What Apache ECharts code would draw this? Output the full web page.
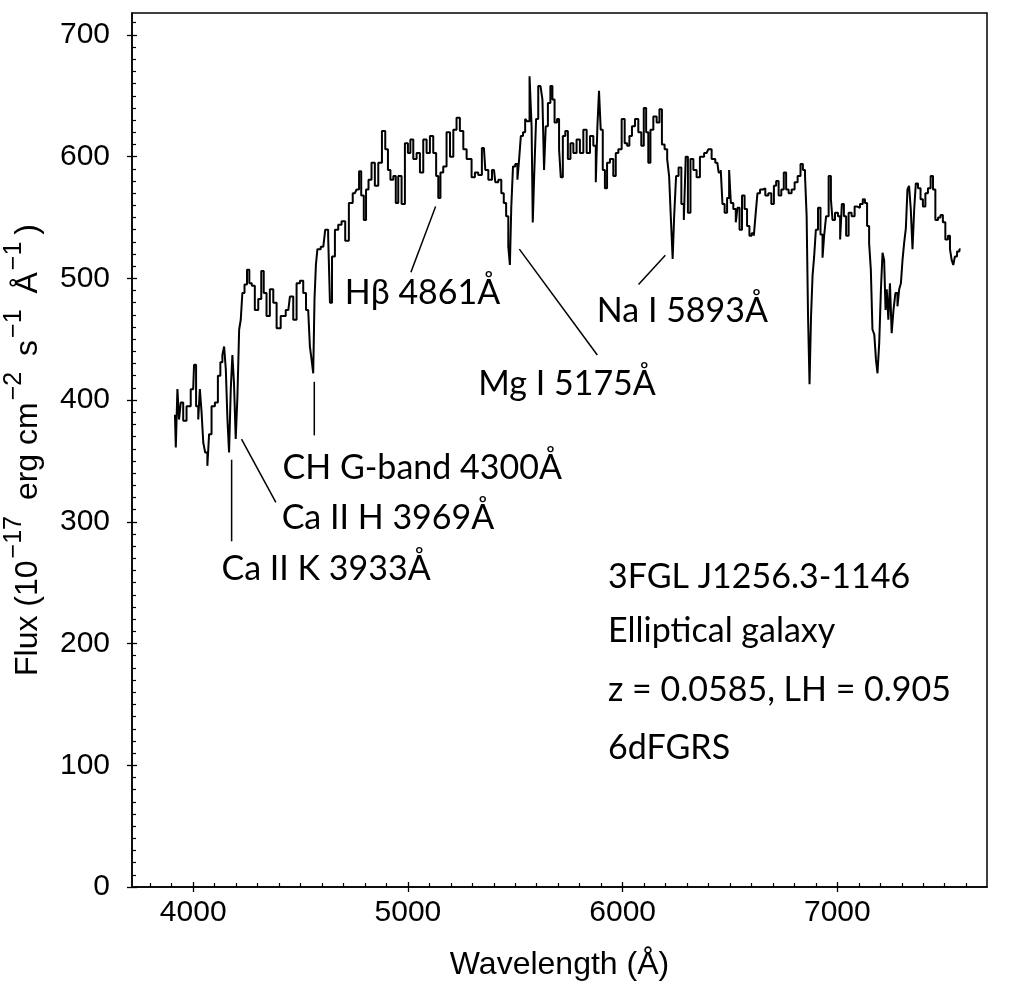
<!DOCTYPE html>
<html>
<head>
<meta charset="utf-8">
<script src="https://cdn.jsdelivr.net/npm/echarts@6/dist/echarts.min.js"></script>
<style>
html, body { margin: 0; padding: 0; background: #fff; }
#chart { width: 1023px; height: 990px; }
</style>
</head>
<body>
<div id="chart"></div>
<script>
// spectrum (wavelength in Å, flux in 1e-17 erg/cm2/s/Å)
const wavelength = [
    3915, 3923, 3930, 3938, 3946, 3961, 3977, 4000, 4008, 4019,
    4028, 4034, 4044, 4050, 4062, 4070, 4078, 4093, 4109, 4121,
    4132, 4140, 4148, 4156, 4163, 4171, 4179, 4186, 4194, 4202,
    4210, 4218, 4225, 4233, 4245, 4256, 4267, 4279, 4295, 4311,
    4323, 4334, 4349, 4365, 4381, 4396, 4419, 4443, 4458, 4474,
    4489, 4505, 4520, 4531, 4540, 4547, 4556, 4562, 4568, 4575,
    4582, 4606, 4624, 4633, 4641, 4652, 4668, 4683, 4699, 4717,
    4733, 4753, 4769, 4776, 4789, 4800, 4810, 4823, 4838, 4854,
    4870, 4888, 4901, 4913, 4924, 4940, 4947, 4963, 4978, 4994,
    5006, 5017, 5033, 5048, 5064, 5079, 5095, 5110, 5126, 5137,
    5146, 5157, 5172, 5188, 5204, 5219, 5234, 5250, 5266, 5281,
    5289, 5304, 5320, 5335, 5354, 5367, 5382, 5401, 5413, 5429,
    5441, 5452, 5463, 5472, 5478, 5485, 5494, 5506, 5514, 5522,
    5530, 5542, 5550, 5560, 5573, 5579, 5584, 5592, 5602, 5612,
    5623, 5630, 5638, 5646, 5658, 5669, 5677, 5689, 5700, 5708,
    5716, 5727, 5739, 5751, 5763, 5778, 5793, 5809, 5825, 5840,
    5856, 5871, 5879, 5886, 5894, 5902, 5913, 5922, 5933, 5949,
    5964, 5972, 5988, 6003, 6016, 6026, 6037, 6050, 6065, 6081,
    6093, 6104, 6115, 6124, 6135, 6151, 6166, 6177, 6189, 6202,
    6213, 6220, 6230, 6236, 6244, 6254, 6267, 6280, 6290, 6298,
    6310, 6322, 6337, 6352, 6368, 6391, 6407, 6422, 6441, 6453,
    6461, 6469, 6481, 6492, 6500, 6508, 6523, 6531, 6539, 6550,
    6562, 6574, 6585, 6596, 6606, 6616, 6624, 6632, 6648, 6658,
    6671, 6686, 6699, 6710, 6720, 6733, 6745, 6756, 6767, 6779,
    6795, 6807, 6823, 6834, 6845, 6854, 6860, 6867, 6874, 6881,
    6888, 6896, 6904, 6916, 6927, 6935, 6942, 6953, 6966, 6974,
    6981, 6997, 7009, 7017, 7025, 7036, 7046, 7059, 7074, 7087,
    7098, 7113, 7124, 7133, 7144, 7152, 7160, 7167, 7177, 7183,
    7191, 7199, 7207, 7214, 7222, 7227, 7233, 7242, 7248, 7258,
    7265, 7276, 7284, 7292, 7300, 7307, 7315, 7323, 7330, 7338,
    7346, 7354, 7362, 7369, 7382, 7393, 7404, 7416, 7428, 7441,
    7450, 7463, 7475, 7486, 7497, 7509, 7521, 7528, 7537, 7543,
    7552, 7563, 7574
];
const flux = [
    388, 361, 409, 384, 398, 383, 395, 409, 429, 395,
    384, 409, 390, 365, 357, 346, 372, 395, 398, 420,
    431, 437, 444, 425, 384, 357, 409, 437, 414, 368,
    403, 458, 466, 488, 495, 507, 496, 494, 474, 483,
    506, 488, 469, 491, 480, 459, 469, 474, 485, 466,
    496, 498, 488, 474, 474, 444, 433, 422, 483, 511,
    524, 526, 540, 535, 480, 518, 540, 544, 547, 531,
    562, 570, 573, 588, 568, 548, 573, 581, 595, 576,
    595, 621, 606, 589, 581, 584, 562, 584, 561, 611,
    603, 614, 598, 603, 587, 614, 603, 617, 603, 584,
    566, 587, 592, 620, 600, 622, 632, 621, 606, 598,
    598, 583, 587, 585, 607, 589, 581, 589, 579, 581,
    570, 562, 551, 526, 511, 559, 592, 594, 581, 598,
    617, 620, 631, 629, 666, 625, 546, 584, 631, 658,
    659, 647, 589, 625, 644, 658, 647, 628, 631, 606,
    583, 617, 621, 598, 611, 603, 614, 603, 622, 603,
    617, 609, 579, 625, 654, 622, 589, 574, 595, 598,
    584, 603, 606, 631, 611, 609, 617, 625, 631, 620,
    609, 640, 620, 595, 622, 633, 628, 639, 610, 606,
    598, 584, 548, 516, 551, 584, 591, 561, 548, 600,
    554, 598, 589, 583, 600, 603, 606, 598, 595, 587,
    589, 561, 554, 566, 589, 562, 557, 546, 558, 540,
    568, 557, 543, 535, 537, 535, 554, 570, 573, 574,
    568, 570, 561, 576, 580, 568, 573, 587, 573, 570,
    573, 579, 584, 594, 589, 584, 551, 469, 413, 469,
    502, 518, 540, 558, 536, 517, 535, 551, 584, 565,
    548, 554, 551, 532, 561, 551, 535, 554, 551, 559,
    558, 561, 565, 562, 543, 529, 507, 458, 454, 433,
    422, 447, 491, 521, 515, 474, 491, 466, 496, 455,
    474, 488, 477, 491, 496, 515, 529, 541, 573, 576,
    557, 524, 557, 578, 574, 565, 559, 570, 574, 584,
    573, 548, 550, 552, 546, 532, 535, 524, 515, 511,
    518, 522, 524
];

const xTicks = [4000, 5000, 6000, 7000];
const yTicks = [0, 100, 200, 300, 400, 500, 600, 700];
const xMinor = [];
for (let v = 3800; v <= 7600; v += 100) if (v % 1000) xMinor.push(v);
const yMinor = [];
for (let v = 10; v <= 710; v += 10) if (v % 100) yMinor.push(v);

// line identifications: label, text anchor (left, middle), pointer from -> to
const lineNames = ['Hβ 4861Å', 'Mg I 5175Å', 'Na I 5893Å', 'CH G-band 4300Å', 'Ca II H 3969Å', 'Ca II K 3933Å'];
const lineTextPos = [[4706, 488], [5328, 413], [5880, 473], [4416, 344], [4412, 303], [4132, 261]];
const linePointers = [
    [5129, 559, 5014, 505],
    [5519, 524, 5882, 437],
    [6199, 519, 6074, 495],
    [4564, 415, 4564, 371],
    [4225, 368, 4385, 316],
    [4179, 351, 4179, 284]
];
const infoText = ['3FGL J1256.3-1146', 'Elliptical galaxy', 'z = 0.0585, LH = 0.905', '6dFGRS'];
const infoX = 5932;
const infoY = [255, 210, 162, 114];

const tickFont = 'Liberation Sans';
const noteFont = 'Lato';

function xAx(extra) {
    return Object.assign({
        type: 'value', position: 'bottom', min: 3715, max: 7697,
        axisLine: { show: false }, axisLabel: { show: false },
        axisTick: { show: false }, splitLine: { show: false }
    }, extra);
}
function yAx(extra) {
    return Object.assign({
        type: 'value', position: 'left', min: 0, max: 718,
        axisLine: { show: false }, axisLabel: { show: false },
        axisTick: { show: false }, splitLine: { show: false }
    }, extra);
}

const option = {
    animation: false,
    backgroundColor: '#fff',
    grid: {
        left: 132, right: 36, top: 13, bottom: 103,
        containLabel: false, outerBoundsMode: 'none',
        show: true, borderColor: '#000', borderWidth: 1.5
    },
    xAxis: [
        xAx({
            axisLine: { show: true, lineStyle: { color: '#000', width: 1.5 } },
            axisTick: { show: true, inside: true, length: 5, customValues: xTicks, lineStyle: { color: '#000', width: 1.3 } },
            axisLabel: {
                show: true, customValues: xTicks, margin: 11, color: '#000', fontSize: 30, fontFamily: tickFont,
                formatter: v => String(v)
            },
            name: 'Wavelength (Å)', nameLocation: 'middle', nameGap: 62,
            nameTextStyle: { color: '#000', fontSize: 32, fontFamily: tickFont }
        }),
        xAx({ axisTick: { show: true, inside: false, length: 5, customValues: xTicks, lineStyle: { color: '#000', width: 1.3 } } }),
        xAx({ axisTick: { show: true, inside: true, length: 4, customValues: xMinor, lineStyle: { color: '#000', width: 1.2 } } })
    ],
    yAxis: [
        yAx({
            axisLine: { show: true, lineStyle: { color: '#000', width: 1.5 } },
            axisTick: { show: true, inside: true, length: 5, customValues: yTicks, lineStyle: { color: '#000', width: 1.3 } },
            axisLabel: {
                show: true, customValues: yTicks, margin: 22, color: '#000', fontSize: 30, fontFamily: tickFont,
                formatter: v => String(v)
            },
            name: '{t|Flux (10}{s|−17}{t| erg cm}{s|−2}{t| s}{s|−1}{t| Å}{s|−1}{t|)}',
            nameLocation: 'middle', nameRotate: 90, nameGap: 88,
            nameTextStyle: {
                color: '#000', fontSize: 32, fontFamily: tickFont,
                rich: {
                    t: { fontSize: 32, fontFamily: tickFont, color: '#000', verticalAlign: 'bottom', lineHeight: 36 },
                    s: {
                        fontSize: 25, fontFamily: tickFont, color: '#000', verticalAlign: 'bottom', lineHeight: 27,
                        padding: [0, 7, 17, 2]
                    }
                }
            }
        }),
        yAx({ axisTick: { show: true, inside: false, length: 5, customValues: yTicks, lineStyle: { color: '#000', width: 1.3 } } }),
        yAx({ axisTick: { show: true, inside: true, length: 4, customValues: yMinor, lineStyle: { color: '#000', width: 1.2 } } })
    ],
    series: [{
        type: 'line',
        xAxisIndex: 0,
        yAxisIndex: 0,
        step: 'middle',
        showSymbol: false,
        silent: true,
        lineStyle: { color: '#000', width: 2 },
        data: wavelength.map((w, i) => [w, flux[i]])
    }]
};

const chart = echarts.init(document.getElementById('chart'));
chart.setOption(option);

const px = v => chart.convertToPixel({ seriesIndex: 0 }, v);
const graphics = [];
linePointers.forEach(([x1, y1, x2, y2]) => {
    const a = px([x1, y1]), b = px([x2, y2]);
    graphics.push({
        type: 'line', silent: true,
        shape: { x1: a[0], y1: a[1], x2: b[0], y2: b[1] },
        style: { stroke: '#000', lineWidth: 1.5 }
    });
});
lineNames.forEach((name, i) => {
    const p = px(lineTextPos[i]);
    graphics.push({
        type: 'text', silent: true, x: p[0], y: p[1],
        style: { text: name, fill: '#000', fontSize: 34, fontFamily: noteFont, align: 'left', verticalAlign: 'middle' }
    });
});
infoText.forEach((s, i) => {
    const p = px([infoX, infoY[i]]);
    graphics.push({
        type: 'text', silent: true, x: p[0], y: p[1],
        style: { text: s, fill: '#000', fontSize: 34, fontFamily: noteFont, align: 'left', verticalAlign: 'middle' }
    });
});
chart.setOption({ graphic: graphics });
</script>
</body>
</html>
